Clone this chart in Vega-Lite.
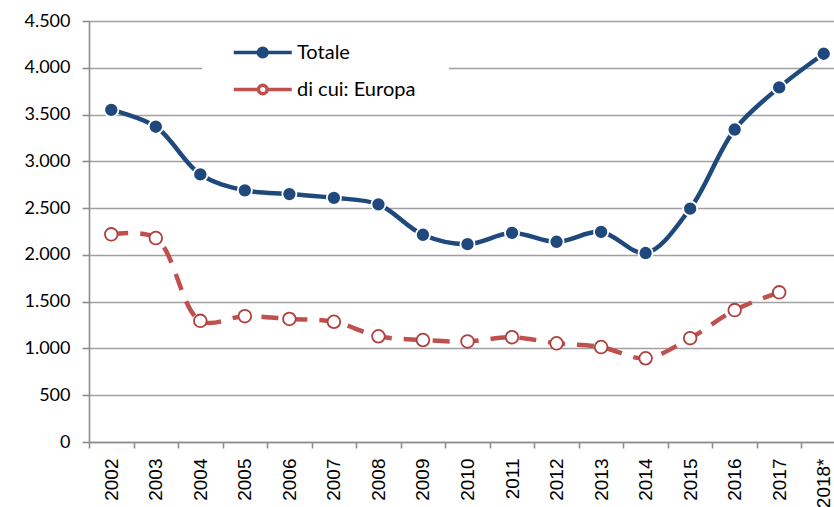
{
  "$schema": "https://vega.github.io/schema/vega-lite/v6.json",
  "width": 745,
  "height": 421,
  "autosize": {"type": "none"},
  "padding": {"left": 89, "top": 21, "right": 0, "bottom": 65},
  "background": "white",
  "config": {
    "view": {"stroke": null},
    "axis": {"domainColor": "#8c8c8c", "domainWidth": 1.6, "tickColor": "#8c8c8c", "tickWidth": 1.6, "labelColor": "#000000", "title": null}
  },
  "data": {"values": [
    {"year": "2002", "series": "Totale", "value": 3550},
    {"year": "2003", "series": "Totale", "value": 3370},
    {"year": "2004", "series": "Totale", "value": 2860},
    {"year": "2005", "series": "Totale", "value": 2690},
    {"year": "2006", "series": "Totale", "value": 2650},
    {"year": "2007", "series": "Totale", "value": 2610},
    {"year": "2008", "series": "Totale", "value": 2540},
    {"year": "2009", "series": "Totale", "value": 2215},
    {"year": "2010", "series": "Totale", "value": 2115},
    {"year": "2011", "series": "Totale", "value": 2235},
    {"year": "2012", "series": "Totale", "value": 2140},
    {"year": "2013", "series": "Totale", "value": 2245},
    {"year": "2014", "series": "Totale", "value": 2020},
    {"year": "2015", "series": "Totale", "value": 2495},
    {"year": "2016", "series": "Totale", "value": 3340},
    {"year": "2017", "series": "Totale", "value": 3790},
    {"year": "2018*", "series": "Totale", "value": 4150},
    {"year": "2002", "series": "di cui: Europa", "value": 2220},
    {"year": "2003", "series": "di cui: Europa", "value": 2180},
    {"year": "2004", "series": "di cui: Europa", "value": 1295},
    {"year": "2005", "series": "di cui: Europa", "value": 1345},
    {"year": "2006", "series": "di cui: Europa", "value": 1315},
    {"year": "2007", "series": "di cui: Europa", "value": 1285},
    {"year": "2008", "series": "di cui: Europa", "value": 1130},
    {"year": "2009", "series": "di cui: Europa", "value": 1090},
    {"year": "2010", "series": "di cui: Europa", "value": 1075},
    {"year": "2011", "series": "di cui: Europa", "value": 1120},
    {"year": "2012", "series": "di cui: Europa", "value": 1055},
    {"year": "2013", "series": "di cui: Europa", "value": 1015},
    {"year": "2014", "series": "di cui: Europa", "value": 895},
    {"year": "2015", "series": "di cui: Europa", "value": 1110},
    {"year": "2016", "series": "di cui: Europa", "value": 1410},
    {"year": "2017", "series": "di cui: Europa", "value": 1600}
  ]},
  "encoding": {
    "x": {
      "field": "year", "type": "ordinal", "sort": null,
      "scale": {"type": "band", "paddingInner": 0, "paddingOuter": 0, "range": [0, 757]},
      "axis": {"labelAngle": -90, "labelAlign": "right", "labelBaseline": "middle", "tickBand": "extent", "tickSize": 6, "labelPadding": 10, "labelFont": "Liberation Sans", "labelFontSize": 19, "grid": false}
    },
    "y": {
      "field": "value", "type": "quantitative",
      "scale": {"domain": [0, 4500], "nice": false},
      "axis": {"values": [0, 500, 1000, 1500, 2000, 2500, 3000, 3500, 4000, 4500], "labelExpr": "replace(format(datum.value, ','), ',', '.')", "tickSize": 7, "labelPadding": 12, "labelFont": "Lato", "labelFontSize": 18, "grid": true, "gridColor": "#a0a0a0", "gridWidth": 1.6}
    }
  },
  "layer": [
    {
      "transform": [{"filter": "datum.series === 'Totale'"}],
      "mark": {"type": "line", "interpolate": "catmull-rom", "strokeWidth": 4.5, "strokeCap": "butt"},
      "encoding": {
        "color": {
          "field": "series", "type": "nominal",
          "scale": {"domain": ["Totale", "di cui: Europa"], "range": ["#1f497d", "#c0504d"]},
          "legend": {
            "orient": "none", "legendX": 113, "legendY": 7,
            "title": " ", "titleOrient": "right", "titlePadding": 26, "titleFontSize": 4,
            "fillColor": "white", "padding": 8, "rowPadding": 9,
            "symbolType": "M-1,0M0.5,0H2.2M2.8,0H4.5M2.8,0A0.3,0.3 0 1,1 2.2,0A0.3,0.3 0 1,1 2.8,0Z",
            "symbolSize": 841, "symbolStrokeWidth": 3.5,
            "labelFont": "Lato", "labelFontSize": 20, "labelColor": "#000000", "labelOffset": 54, "labelLimit": 400,
            "encode": {"symbols": {"update": {"fill": {"signal": "datum.value === 'Totale' ? '#1f497d' : 'white'"}, "strokeDash": {"value": []}}}}
          }
        }
      }
    },
    {
      "transform": [{"filter": "datum.series === 'di cui: Europa'"}],
      "mark": {"type": "line", "interpolate": "catmull-rom", "strokeWidth": 4.5, "strokeCap": "butt", "color": "#c0504d", "strokeDash": [17, 12]}
    },
    {
      "transform": [{"filter": "datum.series === 'Totale'"}],
      "mark": {"type": "point", "filled": true, "fill": "#1f497d", "stroke": "#ffffff", "strokeWidth": 1.8, "size": 200, "opacity": 1}
    },
    {
      "transform": [{"filter": "datum.series === 'di cui: Europa'"}],
      "mark": {"type": "point", "filled": true, "fill": "#ffffff", "stroke": "#b0403d", "strokeWidth": 1.8, "size": 160, "opacity": 1}
    }
  ]
}
